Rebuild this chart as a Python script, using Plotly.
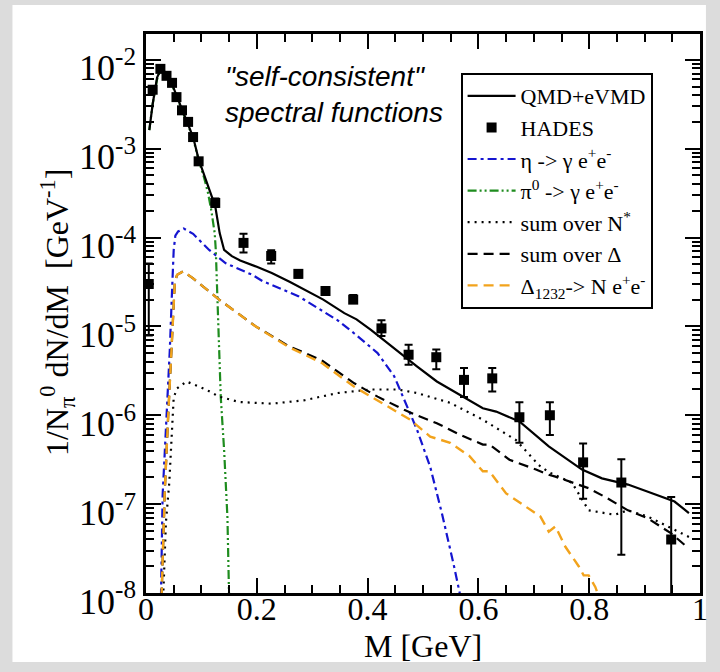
import plotly.graph_objects as go

# ---------------- data ----------------
# HADES data points
hades_x = [0.005, 0.012, 0.026, 0.037, 0.047, 0.055, 0.065, 0.076, 0.085, 0.095,
           0.125, 0.176, 0.226, 0.275, 0.324, 0.374, 0.425, 0.474, 0.524, 0.574,
           0.625, 0.674, 0.729, 0.789, 0.858, 0.948]
hades_y = [3.0e-5, 4.6e-3, 7.9e-3, 6.6e-3, 5.5e-3, 3.8e-3, 2.7e-3, 2.0e-3, 1.35e-3, 7.2e-4,
           2.45e-4, 8.7e-5, 6.2e-5, 3.9e-5, 2.5e-5, 2.0e-5, 9.5e-6, 4.8e-6, 4.5e-6, 2.5e-6,
           2.6e-6, 9.5e-7, 1.0e-6, 2.95e-7, 1.75e-7, 4.0e-8]
hades_hi = [5.1e-5, 4.6e-3, 7.9e-3, 6.6e-3, 5.5e-3, 3.8e-3, 2.7e-3, 2.0e-3, 1.35e-3, 7.2e-4,
            2.75e-4, 1.1e-4, 7.2e-5, 4.3e-5, 2.75e-5, 2.25e-5, 1.17e-5, 6.2e-6, 5.5e-6, 3.4e-6,
            3.4e-6, 1.4e-6, 1.4e-6, 4.8e-7, 3.2e-7, 1.2e-7]
hades_lo = [7.9e-6, 4.6e-3, 7.9e-3, 6.6e-3, 5.5e-3, 3.8e-3, 2.7e-3, 2.0e-3, 1.35e-3, 7.2e-4,
            2.2e-4, 6.8e-5, 5.1e-5, 3.55e-5, 2.3e-5, 1.85e-5, 7.8e-6, 3.7e-6, 3.3e-6, 1.6e-6,
            1.85e-6, 4.9e-7, 6.0e-7, 1.15e-7, 2.7e-8, 1.0e-9]

# QMD+eVMD total
qmd_x = [0.006, 0.012, 0.020, 0.027, 0.035, 0.045, 0.055, 0.065, 0.075, 0.085, 0.095,
         0.105, 0.115, 0.125, 0.133, 0.141, 0.155, 0.170, 0.200, 0.227, 0.260, 0.287,
         0.320, 0.358, 0.380, 0.406, 0.430, 0.466, 0.489, 0.525, 0.573, 0.608, 0.632,
         0.674, 0.727, 0.787, 0.823, 0.870, 0.906, 0.954, 0.980]
qmd_y = [1.62e-3, 3.16e-3, 6.31e-3, 7.94e-3, 7.24e-3, 5.75e-3, 3.98e-3, 2.82e-3, 2.00e-3,
         1.35e-3, 7.59e-4, 5.01e-4, 3.47e-4, 2.24e-4, 1.12e-4, 7.24e-5, 6.17e-5, 5.50e-5,
         4.68e-5, 3.98e-5, 3.16e-5, 2.57e-5, 2.00e-5, 1.41e-5, 1.20e-5, 9.12e-6, 6.92e-6,
         4.57e-6, 3.55e-6, 2.40e-6, 1.62e-6, 1.20e-6, 1.10e-6, 8.51e-7, 4.47e-7, 2.45e-7,
         1.95e-7, 1.66e-7, 1.38e-7, 1.07e-7, 7.94e-8]

# eta -> gamma e+ e-
eta_x = [0.027, 0.030, 0.034, 0.039, 0.043, 0.047, 0.050, 0.053, 0.058, 0.068, 0.085,
         0.114, 0.144, 0.192, 0.210, 0.275, 0.346, 0.376, 0.418, 0.448, 0.471, 0.489,
         0.513, 0.534, 0.555, 0.568]
eta_y = [8.9e-9, 1.26e-7, 3.98e-7, 1.58e-6, 5.50e-6, 2.51e-5, 7.24e-5, 1.05e-4, 1.17e-4,
         1.26e-4, 1.10e-4, 7.24e-5, 5.13e-5, 3.80e-5, 3.24e-5, 2.19e-5, 1.17e-5, 8.32e-6,
         5.01e-6, 2.75e-6, 1.26e-6, 6.92e-7, 2.63e-7, 7.94e-8, 2.14e-8, 8.9e-9]

# pi0 -> gamma e+ e-
pi0_x = [0.006, 0.012, 0.020, 0.026, 0.035, 0.045, 0.055, 0.065, 0.075, 0.085, 0.095,
         0.105, 0.112, 0.118, 0.124, 0.126, 0.129, 0.132, 0.135, 0.141, 0.145, 0.147, 0.150]
pi0_y = [1.62e-3, 3.16e-3, 6.03e-3, 7.59e-3, 7.08e-3, 5.62e-3, 3.89e-3, 2.75e-3, 1.95e-3,
         1.32e-3, 7.41e-4, 4.68e-4, 3.16e-4, 2.00e-4, 1.12e-4, 7.24e-5, 2.00e-5, 6.31e-6,
         1.58e-6, 4.07e-7, 1.20e-7, 7.08e-8, 8.9e-9]

# sum over N*
nstar_x = [0.031, 0.036, 0.042, 0.046, 0.050, 0.056, 0.073, 0.108, 0.132, 0.168, 0.227,
           0.287, 0.346, 0.406, 0.454, 0.489, 0.549, 0.608, 0.668, 0.709, 0.727, 0.769,
           0.787, 0.799, 0.846, 0.870, 0.906, 0.942, 0.980]
nstar_y = [8.9e-9, 6.31e-8, 1.74e-7, 6.31e-7, 1.58e-6, 2.00e-6, 2.40e-6, 1.95e-6, 1.62e-6,
           1.41e-6, 1.35e-6, 1.48e-6, 1.78e-6, 1.95e-6, 1.95e-6, 1.78e-6, 1.38e-6, 8.91e-7,
           5.25e-7, 2.75e-7, 2.29e-7, 1.74e-7, 1.12e-7, 8.51e-8, 7.59e-8, 8.51e-8, 7.24e-8,
           5.62e-8, 4.27e-8]

# sum over Delta
dsum_x = [0.028, 0.031, 0.034, 0.040, 0.046, 0.052, 0.056, 0.067, 0.085, 0.132, 0.198,
          0.257, 0.317, 0.376, 0.418, 0.466, 0.489, 0.525, 0.567, 0.608, 0.620, 0.656,
          0.704, 0.727, 0.739, 0.787, 0.799, 0.829, 0.870, 0.906, 0.948, 0.980]
dsum_y = [8.9e-9, 5.01e-8, 1.45e-7, 9.77e-7, 5.50e-6, 3.09e-5, 3.80e-5, 4.17e-5, 3.47e-5,
          2.00e-5, 1.00e-5, 6.03e-6, 4.17e-6, 2.29e-6, 1.62e-6, 1.15e-6, 1.00e-6, 8.13e-7,
          6.03e-7, 4.68e-7, 4.68e-7, 3.16e-7, 2.45e-7, 2.14e-7, 2.04e-7, 1.58e-7, 1.51e-7,
          1.20e-7, 8.51e-8, 6.92e-8, 4.68e-8, 3.16e-8]

# Delta(1232) -> N e+ e-
d1232_x = [0.028, 0.031, 0.034, 0.040, 0.046, 0.052, 0.056, 0.067, 0.085, 0.132, 0.198,
           0.257, 0.317, 0.376, 0.436, 0.477, 0.513, 0.549, 0.584, 0.608, 0.620, 0.650,
           0.686, 0.712, 0.727, 0.739, 0.757, 0.781, 0.790, 0.799, 0.811, 0.818]
d1232_y = [8.9e-9, 5.01e-8, 1.45e-7, 9.77e-7, 5.50e-6, 3.09e-5, 3.80e-5, 4.17e-5, 3.47e-5,
           2.00e-5, 1.00e-5, 5.89e-6, 3.89e-6, 2.09e-6, 1.26e-6, 8.91e-7, 5.75e-7, 4.90e-7,
           3.47e-7, 2.34e-7, 2.34e-7, 1.32e-7, 9.33e-8, 7.24e-8, 4.90e-8, 5.62e-8, 3.31e-8,
           2.00e-8, 1.58e-8, 1.58e-8, 1.17e-8, 8.9e-9]

x_tickvals = [0, 0.2, 0.4, 0.6, 0.8, 1]
x_ticktext = ["0", "0.2", "0.4", "0.6", "0.8", "1"]
y_exponents = [-8, -7, -6, -5, -4, -3, -2]

# ---------------- figure ----------------
SERIF = "Liberation Serif, Times New Roman, serif"
SANS = "Liberation Sans, Arial, sans-serif"

fig = go.Figure()

fig.add_trace(go.Scatter(x=eta_x, y=eta_y, mode="lines", name="η -> γ e<sup>+</sup>e<sup>-</sup>",
                         line=dict(color="#1515d0", width=2.2, dash="9px,4px,3px,4px"),
                         legendrank=3))
fig.add_trace(go.Scatter(x=pi0_x, y=pi0_y, mode="lines", name="π<sup>0</sup> -> γ e<sup>+</sup>e<sup>-</sup>",
                         line=dict(color="#1e8c1e", width=2.2, dash="9px,3px,2px,3px,2px,3px"),
                         legendrank=4))
fig.add_trace(go.Scatter(x=nstar_x, y=nstar_y, mode="lines", name="sum over N<sup>*</sup>",
                         line=dict(color="black", width=2.2, dash="2px,5px"),
                         legendrank=5))
fig.add_trace(go.Scatter(x=dsum_x, y=dsum_y, mode="lines", name="sum over Δ",
                         line=dict(color="black", width=2.2, dash="10px,6px"),
                         legendrank=6))
fig.add_trace(go.Scatter(x=d1232_x, y=d1232_y, mode="lines", name="Δ<sub>1232</sub>-> N e<sup>+</sup>e<sup>-</sup>",
                         line=dict(color="#f2a31c", width=2.4, dash="10px,6px"),
                         legendrank=7))
fig.add_trace(go.Scatter(x=qmd_x, y=qmd_y, mode="lines", name="QMD+eVMD",
                         line=dict(color="black", width=2.2), legendrank=1))

err_plus = [h - y for h, y in zip(hades_hi, hades_y)]
err_minus = [y - l for y, l in zip(hades_y, hades_lo)]
fig.add_trace(go.Scatter(x=hades_x, y=hades_y, mode="markers", name="HADES",
                         marker=dict(symbol="square", size=10, color="black"),
                         error_y=dict(type="data", symmetric=False, array=err_plus,
                                      arrayminus=err_minus, color="black",
                                      thickness=2, width=4),
                         legendrank=2))

minor_vals = []
for e in y_exponents[:-1]:
    for k in range(2, 10):
        minor_vals.append(k * 10.0 ** e)

L, R, T, B = 146, 14, 34, 79
W, H = 720, 672
pw, ph = W - L - R, H - T - B

def px_x(p):
    return (p - L) / pw

def px_y(p):
    return (H - B - p) / ph

fig.add_shape(type="rect", xref="paper", yref="paper",
              x0=px_x(11), x1=px_x(712), y0=px_y(662), y1=px_y(5),
              fillcolor="white", line=dict(width=0), layer="below")

fig.add_annotation(text='<i>"self-consistent"<br>spectral functions</i>',
                   xref="paper", yref="paper", x=px_x(224), y=px_y(59),
                   xanchor="left", yanchor="top", align="left", showarrow=False,
                   font=dict(family=SANS, size=28, color="black"))

# axis titles
fig.add_annotation(text="M [GeV]", xref="paper", yref="paper",
                   x=px_x(426), y=px_y(646), xanchor="center", yanchor="middle",
                   showarrow=False, font=dict(family=SERIF, size=32, color="black"))
fig.add_annotation(text="1/N<sub>π</sub><sup>0</sup> dN/dM  [GeV<sup>-1</sup>]",
                   xref="paper", yref="paper", x=px_x(56), y=px_y(312),
                   xanchor="center", yanchor="middle", textangle=-90,
                   showarrow=False, font=dict(family=SERIF, size=32, color="black"))

fig.update_layout(
    width=W, height=H,
    margin=dict(l=L, r=R, t=T, b=B, pad=0),
    paper_bgcolor="#dcdcdc",
    plot_bgcolor="white",
    font=dict(family=SERIF, color="black"),
    showlegend=True,
    legend=dict(x=px_x(464), y=px_y(73), xanchor="left", yanchor="top",
                bgcolor="white", bordercolor="black", borderwidth=2,
                font=dict(family=SERIF, size=22, color="black"),
                itemwidth=48, tracegroupgap=0),
    xaxis=dict(range=[0, 1], tickmode="array", tickvals=x_tickvals, ticktext=x_ticktext,
               ticks="inside", ticklen=15, tickwidth=2, tickcolor="black",
               showline=True, linewidth=2.5, linecolor="black", mirror="ticks",
               showgrid=False, zeroline=False, ticklabelstandoff=-14,
               tickfont=dict(family=SERIF, size=32, color="black"),
               minor=dict(tickmode="linear", tick0=0, dtick=0.05, ticks="inside",
                          ticklen=8, tickwidth=1.5, tickcolor="black", showgrid=False)),
    yaxis=dict(type="log", range=[-8, -1.71], tickmode="array",
               tickvals=[10.0 ** e for e in y_exponents],
               ticktext=["10<sup>%d</sup>" % e for e in y_exponents],
               ticks="inside", ticklen=15, tickwidth=2, tickcolor="black",
               showline=True, linewidth=2.5, linecolor="black", mirror="ticks",
               showgrid=False, zeroline=False, ticklabelshift=8,
               tickfont=dict(family=SERIF, size=36, color="black"),
               minor=dict(tickmode="array", tickvals=minor_vals, ticks="inside",
                          ticklen=8, tickwidth=1.5, tickcolor="black", showgrid=False)),
)

fig.write_html("out.html")
